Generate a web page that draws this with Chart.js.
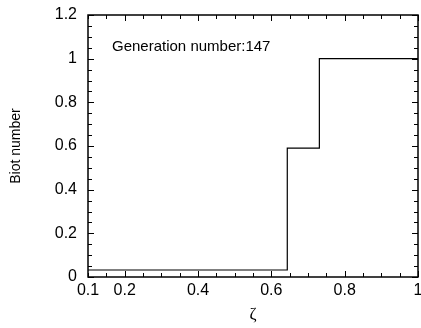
<!DOCTYPE html>
<html>
<head>
<meta charset="utf-8">
<script src="https://cdn.jsdelivr.net/npm/chart.js@4/dist/chart.umd.min.js"></script>
<style>
html,body{margin:0;padding:0;background:#fff;}
#wrap{width:421px;height:328px;}
</style>
</head>
<body>
<div id="wrap"><canvas id="c" width="421" height="328"></canvas></div>
<script>
// Data
const zeta = [0.1, 0.6435, 0.731, 1.0];
const biot = [0.032, 0.59, 1.0, 1.0];
const xTickLabels = [0.1, 0.2, 0.4, 0.6, 0.8, 1.0];
const yTickLabels = [0, 0.2, 0.4, 0.6, 0.8, 1.0, 1.2];
const annotation = 'Generation number:147';

const FONT = '"Liberation Sans", Arial, sans-serif';

const framePlugin = {
  id: 'frameTicks',
  afterDatasetsDraw(chart) {
    const {ctx, chartArea: a, scales: {x, y}} = chart;
    ctx.save();
    ctx.strokeStyle = '#000';
    ctx.lineWidth = 1.5;
    ctx.strokeRect(a.left, a.top, a.right - a.left, a.bottom - a.top);
    ctx.lineWidth = 1;
    ctx.beginPath();
    for (let i = 2; i <= 20; i++) {
      const v = i * 0.05;
      const px = Math.round(x.getPixelForValue(v)) + 0.5;
      const len = (i % 4 === 0) ? 6 : 4;
      ctx.moveTo(px, a.bottom); ctx.lineTo(px, a.bottom - len);
      ctx.moveTo(px, a.top); ctx.lineTo(px, a.top + len);
    }
    for (let i = 0; i <= 24; i++) {
      const v = i * 0.05;
      const py = Math.round(y.getPixelForValue(v)) + 0.5;
      const len = (i % 4 === 0) ? 6 : 4;
      ctx.moveTo(a.left, py); ctx.lineTo(a.left + len, py);
      ctx.moveTo(a.right, py); ctx.lineTo(a.right - len, py);
    }
    ctx.stroke();
    ctx.fillStyle = '#000';
    ctx.font = '15px ' + FONT;
    ctx.textBaseline = 'middle';
    ctx.textAlign = 'left';
    ctx.fillText(annotation, a.left + 24, a.top + 32);
    ctx.restore();
  }
};

new Chart(document.getElementById('c'), {
  type: 'line',
  data: {
    datasets: [{
      data: zeta.map((z, i) => ({x: z, y: biot[i]})),
      stepped: 'before',
      borderColor: '#000',
      borderWidth: 1.2,
      pointRadius: 0,
      fill: false
    }]
  },
  options: {
    responsive: false,
    animation: false,
    devicePixelRatio: 1,
    layout: {padding: {left: 0, right: 3, top: 15, bottom: 0}},
    plugins: {legend: {display: false}, tooltip: {enabled: false}},
    scales: {
      x: {
        type: 'linear',
        min: 0.1, max: 1.0,
        grid: {display: false, drawTicks: false},
        border: {display: false},
        afterBuildTicks: s => { s.ticks = xTickLabels.map(v => ({value: v})); },
        afterFit: s => { s.height = 51; s.paddingLeft = 0; s.paddingRight = 0; },
        ticks: {color: '#000', font: {family: FONT, size: 16}, padding: 4, maxRotation: 0, autoSkip: false,
                callback: v => String(v)},
        title: {display: true, text: 'ζ', color: '#000', font: {family: '"Liberation Serif", serif', size: 17}, padding: {top: 0, bottom: 3}}
      },
      y: {
        type: 'linear',
        min: 0, max: 1.2,
        grid: {display: false, drawTicks: false},
        border: {display: false},
        afterBuildTicks: s => { s.ticks = yTickLabels.map(v => ({value: v})); },
        afterFit: s => { s.width = 88; s.paddingTop = 0; s.paddingBottom = 0; },
        ticks: {color: '#000', font: {family: FONT, size: 16}, padding: 11, callback: v => String(v)},
        title: {display: true, text: 'Biot number', color: '#000', font: {family: FONT, size: 14}, padding: {top: 8, bottom: 0}}
      }
    }
  },
  plugins: [framePlugin]
});
</script>
</body>
</html>
